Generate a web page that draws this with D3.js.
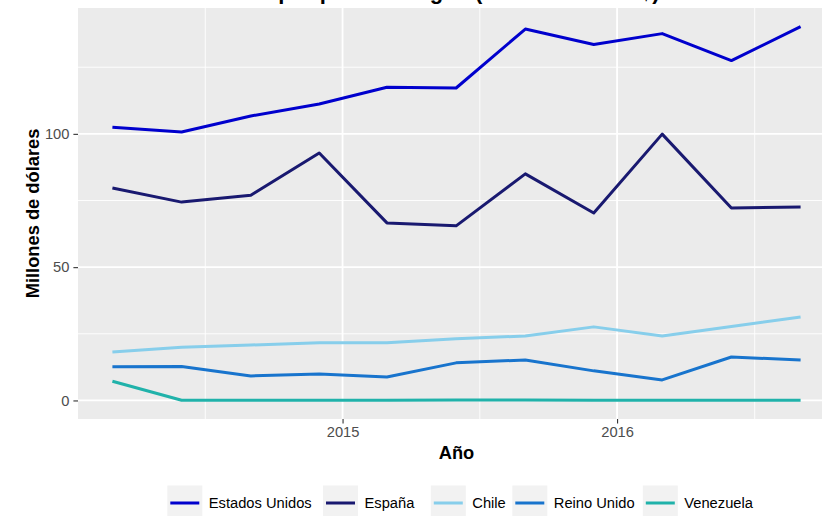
<!DOCTYPE html>
<html lang="es">
<head>
    <meta charset="UTF-8">
    <title>Inversión directa por país de origen</title>
    <script src="https://d3js.org/d3.v7.min.js"></script>
    <style>
        body { margin: 0; background: #fff; }
        svg { display: block; font-family: "Liberation Sans", Arial, sans-serif; }
        .tick-label { font-size: 14.7px; fill: #4d4d4d; }
        .axis-title { font-size: 18.3px; font-weight: bold; fill: #000; }
        .legend-label { font-size: 14.7px; fill: #000; }
    </style>
</head>
<body>
    <svg id="chart" width="822" height="516"></svg>
    <script>
        // quarterly observations
        const dates = ["2014-03-01", "2014-06-01", "2014-09-01", "2014-12-01",
                       "2015-03-01", "2015-06-01", "2015-09-01", "2015-12-01",
                       "2016-03-01", "2016-06-01", "2016-09-01"];

        const countries = ["Estados Unidos", "España", "Chile", "Reino Unido", "Venezuela"];
        const colors = ["#0000cd", "#191970", "#87ceeb", "#1874cd", "#20b2aa"];

        const estadosUnidos = [102.5, 100.7, 106.7, 111.2, 117.5, 117.2, 139.3, 133.5, 137.6, 127.5, 140.2];
        const espana        = [79.7, 74.4, 77.0, 92.8, 66.6, 65.5, 85.0, 70.3, 99.9, 72.2, 72.6];
        const chile         = [18.2, 20.0, 20.8, 21.6, 21.6, 23.1, 24.2, 27.6, 24.2, 27.7, 31.3];
        const reinoUnido    = [12.6, 12.7, 9.2, 9.9, 8.8, 14.1, 15.2, 11.1, 7.7, 16.3, 15.2];
        const venezuela     = [7.2, 0.1, 0.05, 0.05, 0.05, 0.2, 0.2, 0.05, 0.05, 0.05, 0.1];

        const seriesValues = [estadosUnidos, espana, chile, reinoUnido, venezuela];

        const yTicks = [0, 50, 100];
        const xTickYears = [2015, 2016];

        const title = "Inversión directa por país de origen (millones de US$)";
        const xTitle = "Año";
        const yTitle = "Millones de dólares";

        const parseDate = d3.timeParse("%Y-%m-%d");
        const xDates = dates.map(parseDate);

        const svg = d3.select("#chart");
        // panel box (the right edge runs past the picture, as in the source)
        const panel = { left: 78, right: 835, top: 8, bottom: 419 };

        // ggplot-like 5% expansion
        const xExt = d3.extent(xDates);
        const xPad = (xExt[1] - xExt[0]) * 0.05;
        const x = d3.scaleTime()
            .domain([new Date(+xExt[0] - xPad), new Date(+xExt[1] + xPad)])
            .range([panel.left, panel.right]);

        const allVals = seriesValues.flat();
        const yLo = d3.min(allVals), yHi = d3.max(allVals);
        const yPad = (yHi - yLo) * 0.05;
        const y = d3.scaleLinear()
            .domain([yLo - yPad, yHi + yPad])
            .range([panel.bottom, panel.top]);

        // panel background
        svg.append("rect")
            .attr("x", panel.left).attr("y", panel.top)
            .attr("width", panel.right - panel.left)
            .attr("height", panel.bottom - panel.top)
            .attr("fill", "#ebebeb");

        // grid lines
        const grid = svg.append("g");
        const yMinor = d3.range(yTicks[0] - 25, yTicks[yTicks.length - 1] + 50, 50)
            .filter(v => v > y.domain()[0] && v < y.domain()[1]);
        grid.selectAll(".ymin").data(yMinor).enter().append("line")
            .attr("x1", panel.left).attr("x2", panel.right)
            .attr("y1", d => y(d)).attr("y2", d => y(d))
            .attr("stroke", "#fff").attr("stroke-width", 0.9);

        const xMajor = xTickYears.map(yr => new Date(yr, 0, 1));
        const xMinor = [xTickYears[0] - 1, ...xTickYears].map(yr => {
            const a = new Date(yr, 0, 1), b = new Date(yr + 1, 0, 1);
            return new Date((+a + +b) / 2);
        }).filter(d => d > x.domain()[0] && d < x.domain()[1]);
        grid.selectAll(".xmin").data(xMinor).enter().append("line")
            .attr("y1", panel.top).attr("y2", panel.bottom)
            .attr("x1", d => x(d)).attr("x2", d => x(d))
            .attr("stroke", "#fff").attr("stroke-width", 0.9);

        grid.selectAll(".ymaj").data(yTicks).enter().append("line")
            .attr("x1", panel.left).attr("x2", panel.right)
            .attr("y1", d => y(d)).attr("y2", d => y(d))
            .attr("stroke", "#fff").attr("stroke-width", 1.8);
        grid.selectAll(".xmaj").data(xMajor).enter().append("line")
            .attr("y1", panel.top).attr("y2", panel.bottom)
            .attr("x1", d => x(d)).attr("x2", d => x(d))
            .attr("stroke", "#fff").attr("stroke-width", 1.8);

        // lines
        svg.append("clipPath").attr("id", "clip")
            .append("rect")
            .attr("x", panel.left).attr("y", panel.top)
            .attr("width", panel.right - panel.left)
            .attr("height", panel.bottom - panel.top);

        const line = d3.line()
            .x((d, i) => x(xDates[i]))
            .y(d => y(d));

        svg.append("g").attr("clip-path", "url(#clip)")
            .selectAll("path")
            .data(seriesValues)
            .enter().append("path")
            .attr("d", d => line(d))
            .attr("fill", "none")
            .attr("stroke", (d, i) => colors[i])
            .attr("stroke-width", 3)
            .attr("stroke-linejoin", "round");

        // axes
        const yAxis = svg.append("g")
            .attr("transform", `translate(${panel.left},0)`)
            .call(d3.axisLeft(y).tickValues(yTicks).tickSize(4.6).tickPadding(4));
        yAxis.select(".domain").remove();
        yAxis.selectAll(".tick line").attr("stroke", "#333").attr("stroke-width", 1.1);
        yAxis.selectAll(".tick text").attr("class", "tick-label").attr("font-size", null)
            .attr("font-family", null).attr("fill", null);

        const xAxis = svg.append("g")
            .attr("transform", `translate(0,${panel.bottom})`)
            .call(d3.axisBottom(x).tickValues(xMajor).tickFormat(d3.timeFormat("%Y"))
                .tickSize(4.6).tickPadding(3));
        xAxis.select(".domain").remove();
        xAxis.selectAll(".tick line").attr("stroke", "#333").attr("stroke-width", 1.1);
        xAxis.selectAll(".tick text").attr("class", "tick-label").attr("font-size", null)
            .attr("font-family", null).attr("fill", null);

        // titles (plot title sits mostly above the picture's top edge, as in the source)
        svg.append("text")
            .attr("x", panel.left + 18).attr("y", -1.5)
            .attr("font-size", 22).attr("font-weight", "bold")
            .text(title);

        svg.append("text").attr("class", "axis-title")
            .attr("x", (panel.left + panel.right) / 2).attr("y", 459)
            .attr("text-anchor", "middle")
            .text(xTitle);

        svg.append("text").attr("class", "axis-title")
            .attr("transform", `translate(39,${(panel.top + panel.bottom) / 2}) rotate(-90)`)
            .attr("text-anchor", "middle")
            .text(yTitle);

        // legend
        const legendKeyX = [167.3, 323, 430.8, 512.3, 642.8];
        const keySize = 35, legendY = 503;
        const legend = svg.append("g");
        countries.forEach((name, i) => {
            const g = legend.append("g").attr("transform", `translate(${legendKeyX[i]},${legendY})`);
            g.append("rect")
                .attr("x", 0).attr("y", -keySize / 2)
                .attr("width", keySize).attr("height", keySize)
                .attr("fill", "#f2f2f2");
            g.append("line")
                .attr("x1", 3).attr("x2", keySize - 3)
                .attr("stroke", colors[i]).attr("stroke-width", 3);
            g.append("text").attr("class", "legend-label")
                .attr("x", keySize + 6.5).attr("y", 5.2)
                .text(name);
        });
    </script>
</body>
</html>
